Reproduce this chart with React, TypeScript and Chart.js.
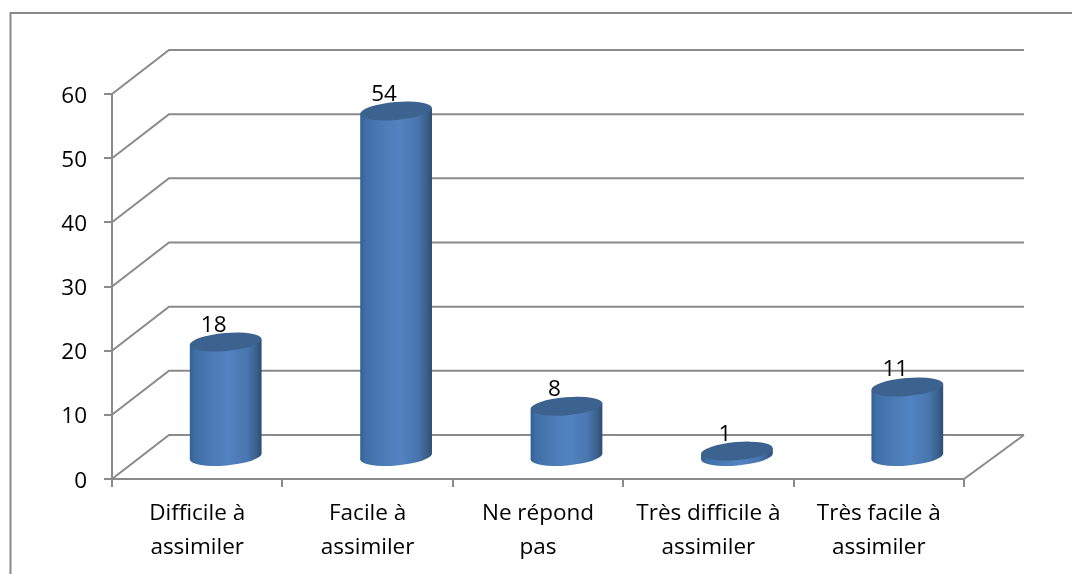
import React, { useEffect, useRef } from "react";
import { Chart, registerables } from "chart.js";

Chart.register(...registerables);

const categories = [
  ["Difficile à", "assimiler"],
  ["Facile à", "assimiler"],
  ["Ne répond", "pas"],
  ["Très difficile à", "assimiler"],
  ["Très facile à", "assimiler"],
];
const values = [18, 54, 8, 1, 11];

const GRID = "#8a8a8a";
const DEPTH_X = 57;
const DEPTH_Y = 44;
const FONT = "'Open Sans', sans-serif";
const FONT_SIZE = 22.5;

const wallPlugin = {
  id: "wall",
  beforeDatasetsDraw(chart: any) {
    const { ctx, chartArea, scales } = chart;
    const { left, right, bottom } = chartArea;
    ctx.save();
    ctx.strokeStyle = GRID;
    ctx.lineWidth = 2;
    for (const t of scales.y.ticks) {
      const y = scales.y.getPixelForValue(t.value);
      ctx.beginPath();
      ctx.moveTo(left, y);
      ctx.lineTo(left + DEPTH_X, y - DEPTH_Y);
      ctx.lineTo(right + DEPTH_X + 3, y - DEPTH_Y);
      ctx.stroke();
    }
    ctx.beginPath();
    ctx.moveTo(right, bottom);
    ctx.lineTo(right + DEPTH_X + 3, bottom - DEPTH_Y);
    ctx.stroke();
    ctx.fillStyle = "#000";
    ctx.font = `${FONT_SIZE}px ${FONT}`;
    ctx.textAlign = "right";
    ctx.textBaseline = "alphabetic";
    for (const t of scales.y.ticks) {
      ctx.fillText(String(t.value), 87, scales.y.getPixelForValue(t.value) + 8.5);
    }
    ctx.restore();
  },
};

const cylinderPlugin = {
  id: "cylinder",
  afterDatasetsDraw(chart: any) {
    const { ctx } = chart;
    const meta = chart.getDatasetMeta(0);
    const tilt = -0.085;
    meta.data.forEach((el: any, i: number) => {
      const p = el.getProps(["x", "y", "base", "width"], true);
      const cx = p.x + DEPTH_X / 2;
      const top = p.y - DEPTH_Y / 2 + 0.5;
      const base = p.base - DEPTH_Y / 2 + 0.5;
      const a = p.width / 2 + 0.5;
      const b = 9;
      const dx = a * Math.cos(tilt);
      const dy = a * Math.sin(tilt);
      const g = ctx.createLinearGradient(cx - dx, 0, cx + dx, 0);
      g.addColorStop(0, "#326094");
      g.addColorStop(0.07, "#3f6fa6");
      g.addColorStop(0.35, "#4c7db8");
      g.addColorStop(0.55, "#5183c2");
      g.addColorStop(0.8, "#4876ae");
      g.addColorStop(0.93, "#3a608c");
      g.addColorStop(1, "#2e4d72");
      ctx.save();
      ctx.fillStyle = g;
      ctx.beginPath();
      ctx.ellipse(cx, base, a, b, tilt, 0, Math.PI * 2);
      ctx.fill();
      ctx.beginPath();
      ctx.moveTo(cx - dx, top - dy);
      ctx.lineTo(cx + dx, top + dy);
      ctx.lineTo(cx + dx, base + dy);
      ctx.lineTo(cx - dx, base - dy);
      ctx.closePath();
      ctx.fill();
      ctx.fillStyle = "#3c628f";
      ctx.beginPath();
      ctx.ellipse(cx, top, a, b, tilt, 0, Math.PI * 2);
      ctx.fill();
      ctx.fillStyle = "#000";
      ctx.font = `${FONT_SIZE}px ${FONT}`;
      ctx.textAlign = "center";
      ctx.textBaseline = "alphabetic";
      ctx.fillText(String(values[i]), cx - 12, top - 10.5);
      ctx.restore();
    });
  },
};

const framePlugin = {
  id: "frame",
  beforeDraw(chart: any) {
    const { ctx, width, height } = chart;
    ctx.save();
    ctx.fillStyle = "#fff";
    ctx.fillRect(0, 0, width, height);
    ctx.strokeStyle = GRID;
    ctx.lineWidth = 2;
    ctx.beginPath();
    ctx.moveTo(10.5, height);
    ctx.lineTo(10.5, 13);
    ctx.lineTo(width, 13);
    ctx.stroke();
    ctx.restore();
  },
};

export default function App() {
  const ref = useRef<HTMLCanvasElement>(null);
  useEffect(() => {
    document.body.style.margin = "0";
    const chart = new Chart(ref.current!, {
      type: "bar",
      data: {
        labels: categories,
        datasets: [
          {
            data: values,
            backgroundColor: "rgba(0,0,0,0)",
            barPercentage: 0.4167,
            categoryPercentage: 1,
          },
        ],
      },
      plugins: [framePlugin, wallPlugin, cylinderPlugin],
      options: {
        animation: false,
        responsive: false,
        layout: { padding: { top: 94, right: 108, bottom: 0, left: 0 } },
        plugins: { legend: { display: false }, tooltip: { enabled: false } },
        scales: {
          x: {
            afterFit(s: any) {
              s.height = 95;
            },
            border: { color: GRID, width: 2 },
            grid: { drawOnChartArea: false, color: GRID, lineWidth: 2, tickLength: 8, offset: true },
            ticks: {
              color: "#000",
              font: { family: FONT, size: FONT_SIZE, lineHeight: 1.51 },
              maxRotation: 0,
              autoSkip: false,
              padding: 10,
            },
          },
          y: {
            min: 0,
            max: 60,
            afterFit(s: any) {
              s.width = 112;
            },
            border: { color: GRID, width: 2 },
            grid: { drawOnChartArea: false, color: GRID, lineWidth: 2, tickLength: 8 },
            ticks: {
              stepSize: 10,
              display: false,
            },
          },
        },
      },
    } as any);
    return () => chart.destroy();
  }, []);
  return <canvas ref={ref} width={1072} height={574} style={{ display: "block" }} />;
}
